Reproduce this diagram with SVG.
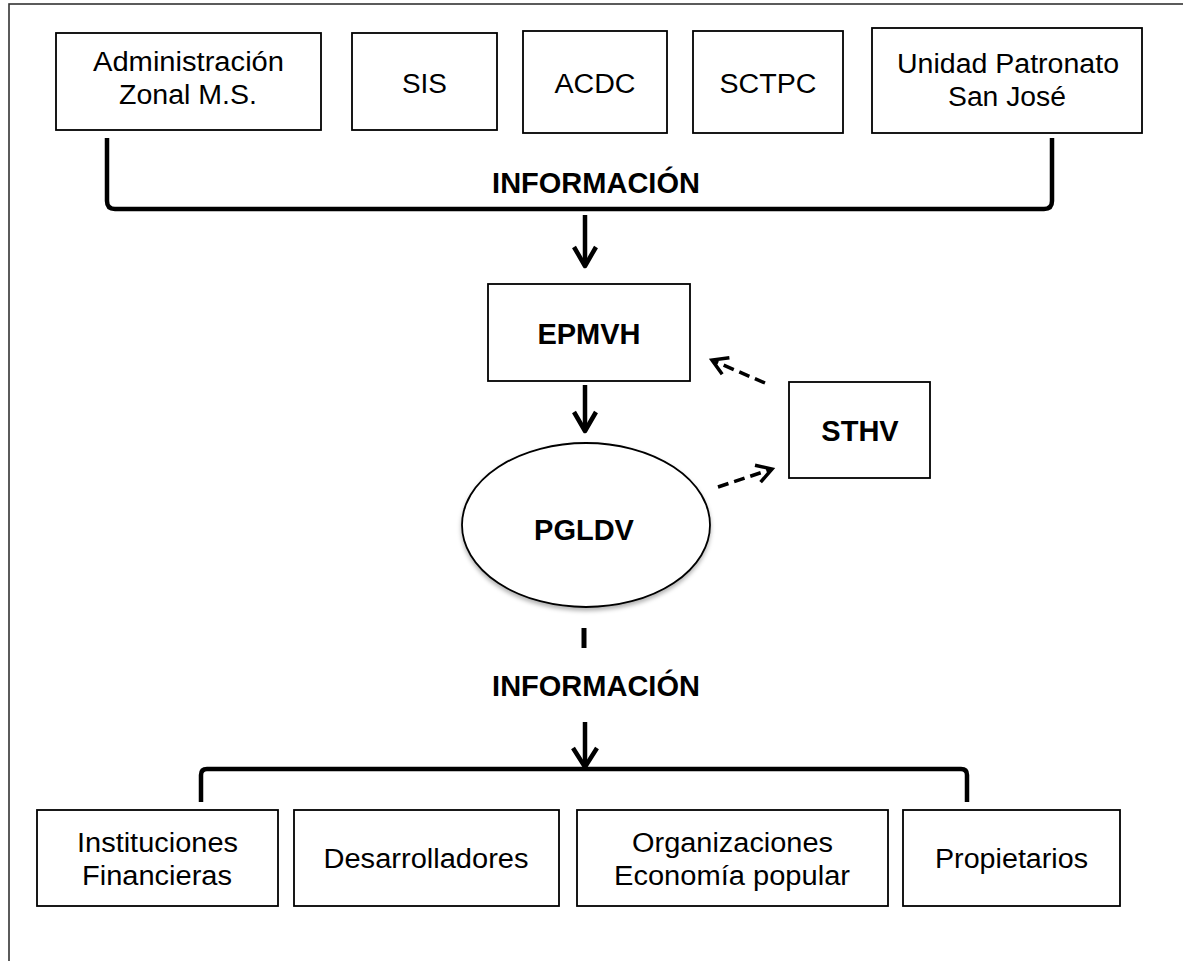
<svg xmlns="http://www.w3.org/2000/svg" width="1183" height="961" viewBox="0 0 1183 961">
<style>
.box{fill:#fff;stroke:#000;stroke-width:1.8}
.t{font-family:"Liberation Sans",Arial,sans-serif;font-size:27px;fill:#000;text-anchor:middle}
.b{font-family:"Liberation Sans",Arial,sans-serif;font-size:29px;font-weight:bold;fill:#000;text-anchor:middle}
.c{fill:none;stroke:#000;stroke-width:4.5;stroke-linecap:butt;stroke-linejoin:round}
.d{fill:none;stroke:#000;stroke-width:3.5;stroke-dasharray:11 6}
.h{fill:none;stroke:#000;stroke-width:3.5;stroke-linejoin:miter}
</style>
<defs>
<filter id="sh" x="-10%" y="-10%" width="120%" height="130%">
<feDropShadow dx="0" dy="3" stdDeviation="2" flood-color="#000" flood-opacity="0.3"/>
</filter>
</defs>
<rect width="1183" height="961" fill="#fff"/>
<rect x="9" y="4" width="1200" height="1000" fill="none" stroke="#333" stroke-width="1.6"/>

<g id="admin"><rect class="box" x="56" y="33" width="265" height="97"/>
<text class="t" x="188.5" y="71" textLength="191" lengthAdjust="spacingAndGlyphs">Administración</text>
<text class="t" x="188" y="104" textLength="138" lengthAdjust="spacingAndGlyphs">Zonal M.S.</text></g>
<g id="sis"><rect class="box" x="352" y="33" width="145" height="97"/>
<text class="t" x="424.5" y="93" textLength="45" lengthAdjust="spacingAndGlyphs">SIS</text></g>
<g id="acdc"><rect class="box" x="523" y="31" width="144" height="102"/>
<text class="t" x="595" y="93" textLength="81" lengthAdjust="spacingAndGlyphs">ACDC</text></g>
<g id="sctpc"><rect class="box" x="693" y="31" width="150" height="102"/>
<text class="t" x="768" y="93" textLength="97" lengthAdjust="spacingAndGlyphs">SCTPC</text></g>
<g id="unidad"><rect class="box" x="872" y="28" width="270" height="105"/>
<text class="t" x="1008" y="73" textLength="222" lengthAdjust="spacingAndGlyphs">Unidad Patronato</text>
<text class="t" x="1007" y="106" textLength="118" lengthAdjust="spacingAndGlyphs">San José</text></g>

<g id="info-top"><text class="b" x="596" y="193">INFORMACIÓN</text></g>

<g id="epmvh"><rect class="box" x="488" y="284" width="202" height="97"/>
<text class="b" x="589" y="344">EPMVH</text></g>
<g id="sthv"><rect class="box" x="789" y="382" width="141" height="96"/>
<text class="b" x="860" y="441">STHV</text></g>
<g id="pgldv"><ellipse cx="586" cy="525" rx="124" ry="82" fill="#fff" stroke="#000" stroke-width="1.8" filter="url(#sh)"/>
<text class="b" x="584" y="540">PGLDV</text></g>

<g id="info-bottom"><text class="b" x="596" y="696">INFORMACIÓN</text></g>

<g id="inst"><rect class="box" x="37" y="810" width="241" height="96"/>
<text class="t" x="157.5" y="852" textLength="161" lengthAdjust="spacingAndGlyphs">Instituciones</text>
<text class="t" x="157" y="885" textLength="150" lengthAdjust="spacingAndGlyphs">Financieras</text></g>
<g id="desa"><rect class="box" x="294" y="810" width="265" height="96"/>
<text class="t" x="426" y="868" textLength="205" lengthAdjust="spacingAndGlyphs">Desarrolladores</text></g>
<g id="orga"><rect class="box" x="577" y="810" width="311" height="96"/>
<text class="t" x="732.5" y="852" textLength="201" lengthAdjust="spacingAndGlyphs">Organizaciones</text>
<text class="t" x="732" y="885" textLength="236" lengthAdjust="spacingAndGlyphs">Economía popular</text></g>
<g id="prop"><rect class="box" x="903" y="810" width="217" height="96"/>
<text class="t" x="1011.5" y="868" textLength="153" lengthAdjust="spacingAndGlyphs">Propietarios</text></g>

<g id="connectors">
<path class="c" d="M107,138 L107,201 Q107,209 115,209 L1044,209 Q1052,209 1052,201 L1052,138"/>
<line class="c" x1="585" y1="215" x2="585" y2="265"/>
<path class="c" d="M574,247 L585,266 L596,247"/>
<line class="c" x1="585" y1="385" x2="585" y2="430"/>
<path class="c" d="M574,412 L585,431 L596,412"/>
<line class="d" x1="765" y1="383" x2="715" y2="361.5"/>
<path class="h" d="M729.4,357.7 L712,360 L722.2,374.3"/>
<line class="d" x1="718" y1="487" x2="769" y2="470"/>
<path class="h" d="M755,465.2 L772,469 L760.6,482.2"/>
<line class="c" x1="584" y1="628" x2="584" y2="648" style="stroke-width:5"/>
<line class="c" x1="585" y1="722" x2="585" y2="766"/>
<path class="c" d="M573,748 L585,767 L597,748"/>
<path class="c" d="M201,802 L201,775 Q201,769 207,769 L961,769 Q967,769 967,775 L967,802"/>
</g>
</svg>
